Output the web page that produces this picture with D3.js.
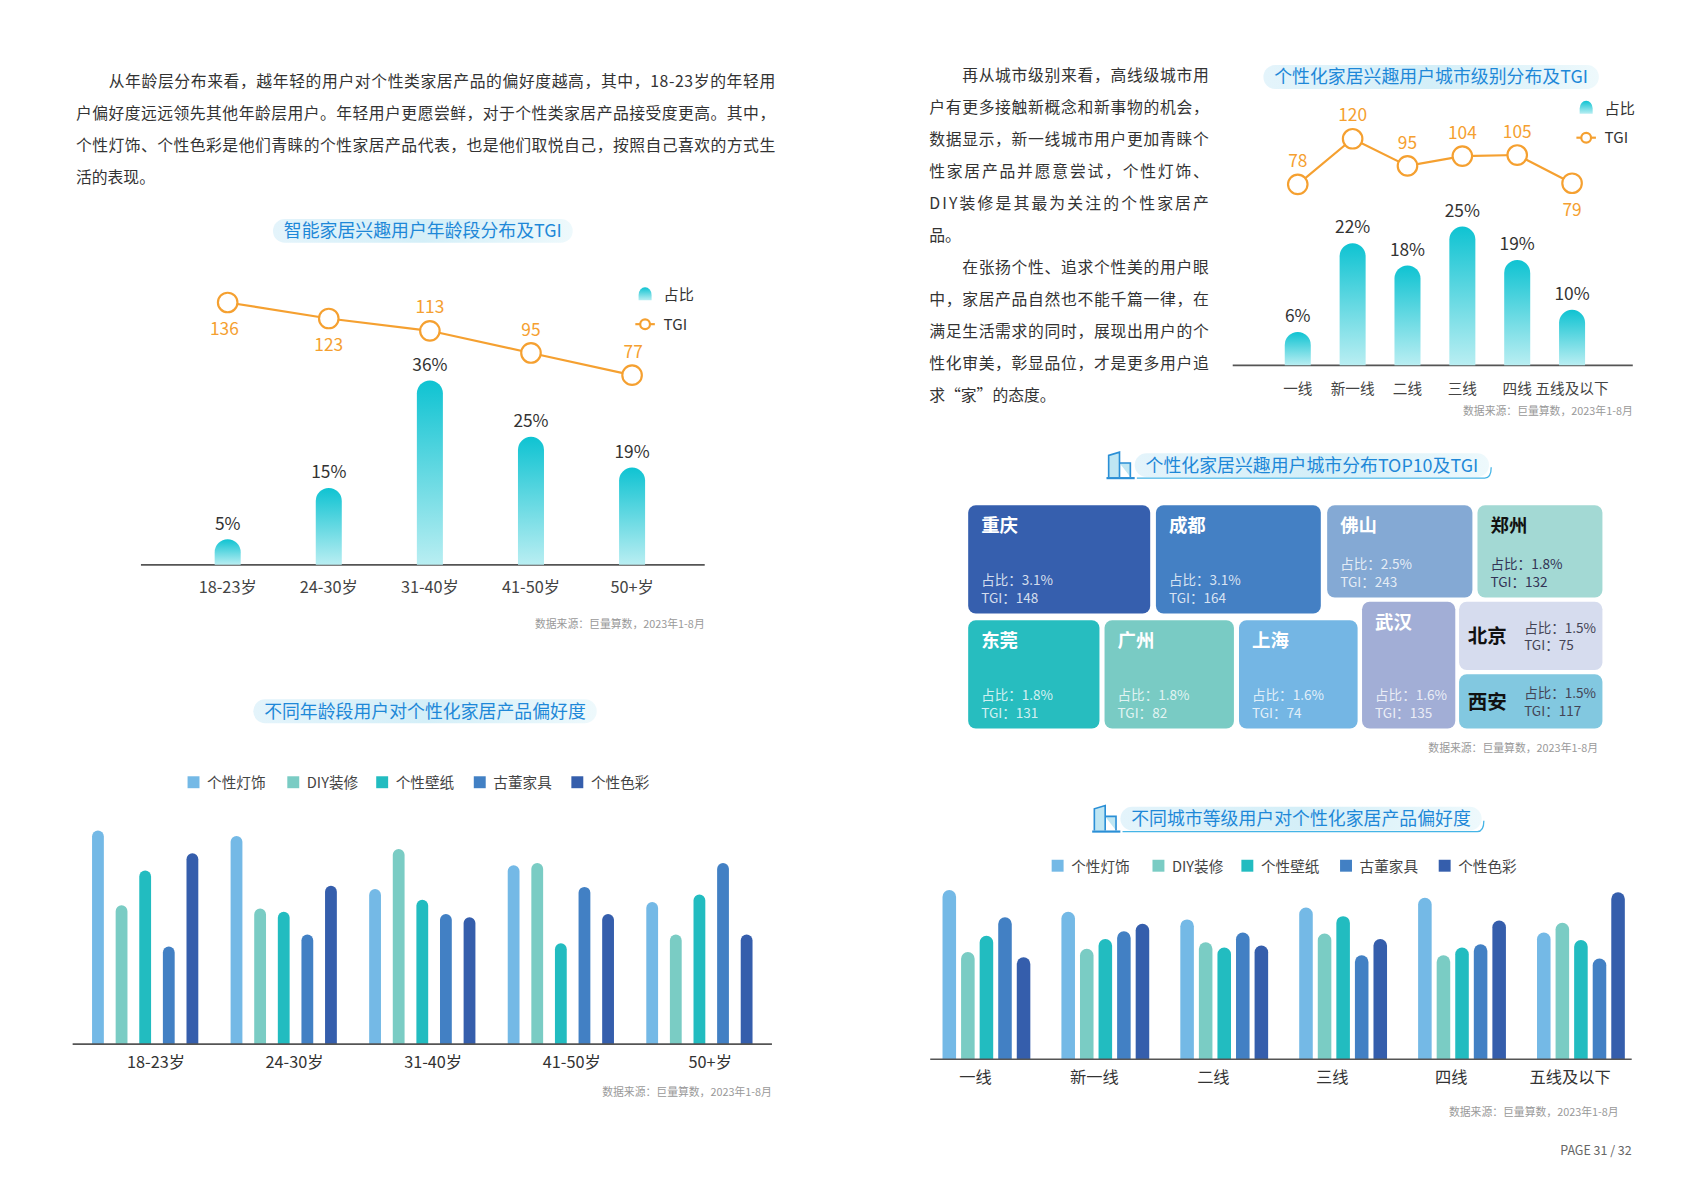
<!DOCTYPE html>
<html><head><meta charset="utf-8">
<script src="https://cdn.jsdelivr.net/npm/d3@7"></script>
<style>body{margin:0;background:#fff}svg{display:block}text{font-family:"Noto Sans CJK SC","Noto Sans",sans-serif}</style>
</head><body><svg id="c" width="1700" height="1190" viewBox="0 0 1568 1097.6"></svg>
<script>
// ---------- data ----------
const ageCats = ["18-23岁","24-30岁","31-40岁","41-50岁","50+岁"];
const ageShare = [5,15,36,25,19];
const ageTGI = [136,123,113,95,77];
const cityCats = ["一线","新一线","二线","三线","四线","五线及以下"];
const cityShare = [6,22,18,25,19,10];
const cityTGI = [78,120,95,104,105,79];
const prefSeries = ["个性灯饰","DIY装修","个性壁纸","古董家具","个性色彩"];
const prefColors = ["#74b9e6","#7accc4","#22bcc0","#4280c4","#355eac"];
const agePref = [[197,128,160,90,176],[192,125,122,101,146],[143,180,133,120,117],[165,167,93,145,120],[131,101,138,167,101]];
const cityPref = [[156,99,114,131,94],[136,102,111,118,125],[129,108,103,117,105],[140,116,132,96,111],[149,96,103,106,128],[117,126,110,93,154]];
const topCities = ["重庆","成都","佛山","郑州","东莞","广州","上海","武汉","北京","西安"];
const topShare = ["3.1%","3.1%","2.5%","1.8%","1.8%","1.8%","1.6%","1.6%","1.5%","1.5%"];
const topTGI = [148,164,243,132,131,82,74,135,75,117];
const topColors = ["#365fae","#4480c4","#84a9d4","#a3d9d4","#27bdbf","#79cbc4","#74b6e4","#a2aed6","#d6dcee","#82c8e0"];
// cell extents in layout units (0-100 wide, 0-100 high)
const topCells = [[0,28.7,0,48.5],[29.6,55.6,0,48.5],[56.6,79.5,0,41.3],[80.3,100,0,41.3],[0,20.7,51.5,100],[21.5,41.9,51.5,100],[42.7,61.4,51.5,100],[62.1,76.8,43.2,100],[77.4,100,43.2,73.8],[77.4,100,75.7,100]];
const darkName = [false,false,false,true,false,false,false,false,true,true];
const para1 = ["　　从年龄层分布来看，越年轻的用户对个性类家居产品的偏好度越高，其中，18-23岁的年轻用","户偏好度远远领先其他年龄层用户。年轻用户更愿尝鲜，对于个性类家居产品接受度更高。其中，","个性灯饰、个性色彩是他们青睐的个性家居产品代表，也是他们取悦自己，按照自己喜欢的方式生","活的表现。"];
const para2 = ["　　再从城市级别来看，高线级城市用","户有更多接触新概念和新事物的机会，","数据显示，新一线城市用户更加青睐个","性家居产品并愿意尝试，个性灯饰、","DIY装修是其最为关注的个性家居产","品。","　　在张扬个性、追求个性美的用户眼","中，家居产品自然也不能千篇一律，在","满足生活需求的同时，展现出用户的个","性化审美，彰显品位，才是更多用户追","求“家”的态度。"];
const source = "数据来源：巨量算数，2023年1-8月";

const svg = d3.select("#c");
const defs = svg.append("defs");
const g1 = defs.append("linearGradient").attr("id","bg").attr("x1",0).attr("y1",0).attr("x2",0).attr("y2",1);
g1.append("stop").attr("offset",0).attr("stop-color","#0fc3d2");
g1.append("stop").attr("offset",1).attr("stop-color","#b9eef2");
const g2 = defs.append("linearGradient").attr("id","pill").attr("x1",0).attr("y1",0).attr("x2",1).attr("y2",0);
g2.append("stop").attr("offset",0).attr("stop-color","#e4f4fb");
g2.append("stop").attr("offset",0.5).attr("stop-color","#d4eff8");
g2.append("stop").attr("offset",1).attr("stop-color","#eef9fc");

function roundTop(x,y,w,h){const r=Math.min(w/2,h);return `M${x},${y+h}V${y+r}A${r},${r} 0 0 1 ${x+w},${y+r}V${y+h}Z`;}

// paragraphs
function para(lines,x,y0,len){
  lines.forEach((l,i)=>{const t=svg.append("text").attr("x",x).attr("y",y0+i*29.5).attr("font-size",14.6).attr("fill","#333").text(l);
    if(i<lines.length-1 && !(lines[i+1]||"").startsWith("　")) t.attr("textLength",len).attr("lengthAdjust","spacing");});
}
para(para1,70,80,645);
para(para2,857,75,258);

function title(cx,cy,t,icon){
  const tt = svg.append("text").attr("x",cx).attr("y",cy+6).attr("text-anchor","middle").attr("font-size",16.5).attr("fill","#1e88d8").text(t);
  const w = tt.node().getComputedTextLength();
  svg.insert("rect","text").attr("x",cx-w/2-10).attr("y",cy-11).attr("width",w+20).attr("height",22).attr("rx",11).attr("fill","url(#pill)");
  if(icon){
    const ix=cx-w/2-34;
    svg.append("path").attr("d",`M${ix},${cy+11}V${cy-9}l10,-3V${cy+11}M${ix+10},${cy-2}h10V${cy+11}`).attr("fill","#bfe6f3").attr("stroke","#2a8fd6").attr("stroke-width",1.5);
    svg.append("line").attr("x1",ix-2).attr("x2",ix+24).attr("y1",cy+12).attr("y2",cy+12).attr("stroke","#2a8fd6").attr("stroke-width",2);
    svg.append("path").attr("d",`M${cx-w/2-8},${cy+12}H${cx+w/2+6}q6,0 6,-10`).attr("fill","none").attr("stroke","#45b4e6").attr("stroke-width",1.2);
  }
}
function src(x,y){svg.append("text").attr("x",x).attr("y",y).attr("text-anchor","end").attr("font-size",10).attr("fill","#999").text(source);}

title(390,213,"智能家居兴趣用户年龄段分布及TGI");
title(392,656,"不同年龄段用户对个性化家居产品偏好度");
title(1320,71,"个性化家居兴趣用户城市级别分布及TGI");
title(1210,429,"个性化家居兴趣用户城市分布TOP10及TGI",true);
title(1200,755,"不同城市等级用户对个性化家居产品偏好度",true);
src(650,579);src(712,1011);src(1506,383);src(1474,694);src(1493,1029);
svg.append("text").attr("x",1505).attr("y",1065).attr("text-anchor","end").attr("font-size",11.5).attr("fill","#666").text("PAGE 31 / 32");

// combo chart
function combo(cats,share,tgi,o){
  const x = d3.scalePoint().domain(cats).range(o.xr);
  const y = d3.scaleLinear().domain([0,o.smax]).range([o.base,o.base-o.sh]);
  const yt = d3.scaleLinear().domain(o.td).range(o.tr);
  svg.append("line").attr("x1",o.ax[0]).attr("x2",o.ax[1]).attr("y1",o.base).attr("y2",o.base).attr("stroke","#555").attr("stroke-width",1.5);
  const bw=24;
  cats.forEach((c,i)=>{
    svg.append("path").attr("d",roundTop(x(c)-bw/2,y(share[i]),bw,o.base-y(share[i]))).attr("fill","url(#bg)");
    svg.append("text").attr("x",x(c)).attr("y",y(share[i])-9).attr("text-anchor","middle").attr("font-size",16).attr("fill","#333").text(share[i]+"%");
    svg.append("text").attr("x",x(c)+(o.lx||0)).attr("y",o.base+26).attr("text-anchor","middle").attr("font-size",o.fs).attr("fill","#444").text(c);
  });
  svg.append("path").datum(tgi).attr("d",d3.line().x((d,i)=>x(cats[i])).y(d=>yt(d))).attr("fill","none").attr("stroke","#f5a030").attr("stroke-width",2);
  cats.forEach((c,i)=>{
    svg.append("circle").attr("cx",x(c)).attr("cy",yt(tgi[i])).attr("r",9).attr("fill","#fff").attr("stroke","#f5a030").attr("stroke-width",2);
    const up=o.above[i];
    svg.append("text").attr("x",x(c)-(o.tdx?o.tdx[i]:0)).attr("y",yt(tgi[i])+(up?-16:30)).attr("text-anchor","middle").attr("font-size",16).attr("fill","#f5a030").text(tgi[i]);
  });
  const [lx,ly]=o.leg;
  svg.append("path").attr("d",`M${lx-6},${ly+5}V${ly}A6,7 0 0 1 ${lx+6},${ly}V${ly+5}Z`).attr("fill","url(#bg)");
  svg.append("text").attr("x",lx+17).attr("y",ly+5).attr("font-size",14).attr("fill","#333").text("占比");
  svg.append("line").attr("x1",lx-9).attr("x2",lx+9).attr("y1",ly+27).attr("y2",ly+27).attr("stroke","#f5a030").attr("stroke-width",2);
  svg.append("circle").attr("cx",lx).attr("cy",ly+27).attr("r",4.5).attr("fill","#fff").attr("stroke","#f5a030").attr("stroke-width",2);
  svg.append("text").attr("x",lx+17).attr("y",ly+32).attr("font-size",14).attr("fill","#333").text("TGI");
}
combo(ageCats,ageShare,ageTGI,{xr:[210,583],ax:[130,650],base:521,smax:36,sh:170,td:[77,136],tr:[346,279],above:[false,false,true,true,true],tdx:[3,0,0,0,-1],leg:[595,272],fs:15});
combo(cityCats,cityShare,cityTGI,{xr:[1197,1450],ax:[1137,1506],base:337,smax:25,sh:128,td:[78,120],tr:[170,128],above:[true,true,true,true,true,false],leg:[1463,100],fs:13.5});

// grouped bars
function grouped(cats,data,o){
  const x0=d3.scaleBand().domain(cats).range(o.xr);
  const x1=d3.scaleBand().domain(prefSeries).range([0,o.inner]).paddingInner(o.pi);
  const y=d3.scaleLinear().domain([0,200]).range([o.base,o.base-200]);
  cats.forEach((c,i)=>{
    const cx=x0(c)+x0.bandwidth()/2;
    prefSeries.forEach((s,j)=>{
      const bx=cx-o.inner/2+x1(s);
      svg.append("path").attr("d",roundTop(bx,y(data[i][j]),x1.bandwidth(),o.base-y(data[i][j]))).attr("fill",prefColors[j]);
    });
    svg.append("text").attr("x",cx+o.lx).attr("y",o.base+22).attr("text-anchor","middle").attr("font-size",15).attr("fill","#333").text(c);
  });
  svg.append("line").attr("x1",o.ax[0]).attr("x2",o.ax[1]).attr("y1",o.base).attr("y2",o.base).attr("stroke","#555").attr("stroke-width",1.5);
  prefSeries.forEach((s,j)=>{
    svg.append("rect").attr("x",o.legx[j]).attr("y",o.legy-6).attr("width",11).attr("height",11).attr("fill",prefColors[j]);
    svg.append("text").attr("x",o.legx[j]+18).attr("y",o.legy+5).attr("font-size",13.5).attr("fill","#444").text(s);
  });
}
grouped(ageCats,agePref,{xr:[70,709],inner:98,pi:0.5,base:963,lx:10,ax:[67,712],legx:[173,265,347,437,527],legy:722});
grouped(cityCats,cityPref,{xr:[855,1513],inner:81,pi:0.27,base:977,lx:-10,ax:[858,1505],legx:[970,1063,1145,1236,1327],legy:799});

// treemap-like grid
const tx=d3.scaleLinear().domain([0,100]).range([893,1478]);
const ty=d3.scaleLinear().domain([0,100]).range([466,672]);
topCities.forEach((c,i)=>{
  const [a,b,cc,d]=topCells[i];
  const x=tx(a),y=ty(cc),w=tx(b)-tx(a),h=ty(d)-ty(cc);
  svg.append("rect").attr("x",x).attr("y",y).attr("width",w).attr("height",h).attr("rx",7).attr("fill",topColors[i]);
  const dark=darkName[i], side=(c==="北京"||c==="西安");
  const vc = dark? "#335" : "rgba(255,255,255,0.8)";
  if(side){
    svg.append("text").attr("x",x+8).attr("y",y+h/2+7).attr("font-size",18).attr("font-weight","bold").attr("fill","#111").text(c);
    svg.append("text").attr("x",x+60).attr("y",y+h/2-3).attr("font-size",12.5).attr("fill","#445").text("占比："+topShare[i]);
    svg.append("text").attr("x",x+60).attr("y",y+h/2+13).attr("font-size",12.5).attr("fill","#445").text("TGI："+topTGI[i]);
  } else {
    svg.append("text").attr("x",x+12).attr("y",y+25).attr("font-size",17).attr("font-weight","bold").attr("fill",dark?"#111":"#fff").text(c);
    svg.append("text").attr("x",x+12).attr("y",y+h-26).attr("font-size",12.5).attr("fill",vc).text("占比："+topShare[i]);
    svg.append("text").attr("x",x+12).attr("y",y+h-10).attr("font-size",12.5).attr("fill",vc).text("TGI："+topTGI[i]);
  }
});
</script></body></html>
